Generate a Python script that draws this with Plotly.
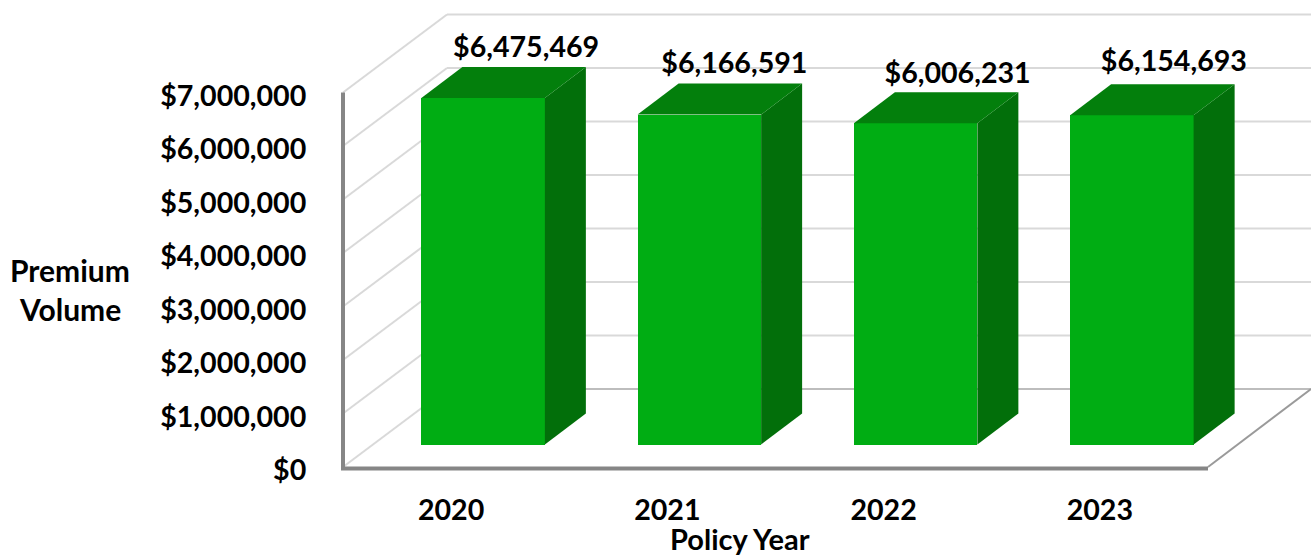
import plotly.graph_objects as go

years = ["2020", "2021", "2022", "2023"]
premium = [6475469, 6166591, 6006231, 6154693]
y_ticks = [0, 1000000, 2000000, 3000000, 4000000, 5000000, 6000000, 7000000]
y_tick_labels = ["$0", "$1,000,000", "$2,000,000", "$3,000,000", "$4,000,000",
                 "$5,000,000", "$6,000,000", "$7,000,000"]

W, H = 1311, 556
AX_L, AX_B, AX_R = 343, 467, 1208
PAD = 12
PX_PER_CAT = (AX_R - AX_L) / 4
PX_PER_USD = 53.5 / 1e6


def dx(px):
    return px / PX_PER_CAT


def dy(px):
    return px / PX_PER_USD


FONT = "Lato, Carlito, Calibri, sans-serif"
FS = 28.6
FRONT = "#00ad13"
TOP = "#037f0c"
SIDE = "#026f0a"
GRID = "#d9d9d9"
AXIS = "#868686"

WALL_DX, WALL_DY = dx(104), dy(78)
BAR_SHIFT_X, BAR_BASE = dx(32), dy(22.5)
BAR_W = 123.5 / PX_PER_CAT
SIDE_DX, SIDE_DY = dx(41), dy(31)

x0, x_end = -0.5, 3.5
x_max = x0 + (W - AX_L) / PX_PER_CAT

fig = go.Figure()
shapes = []


def line(xs, ys, color, width):
    for a, b, c, d in zip(xs[:-1], ys[:-1], xs[1:], ys[1:]):
        shapes.append(dict(type="line", x0=a, y0=b, x1=c, y1=d, layer="below",
                           line=dict(color=color, width=width)))


# Wall gridlines
for v in y_ticks:
    if v == 0:
        continue
    line([x0, x0 + WALL_DX, x_max], [v, v + WALL_DY, v + WALL_DY], GRID, 2)
line([x0, x0 + WALL_DX], [0, WALL_DY], GRID, 2)
# Floor
line([x0 + WALL_DX, x_max], [WALL_DY, WALL_DY], "#bdbdbd", 2)
line([x_end, x_max], [0, WALL_DY], "#9a9a9a", 2)

# Axis lines
line([x0, x0], [y_ticks[-1], -dy(2)], AXIS, 4)
line([x0 - dx(2), x_end], [-dy(1.5), -dy(1.5)], AXIS, 4)

# Bars: side and top faces
for i, v in enumerate(premium):
    l = i + BAR_SHIFT_X - BAR_W / 2
    r = l + BAR_W
    top = BAR_BASE + v
    fig.add_trace(go.Scatter(
        x=[r, r + SIDE_DX, r + SIDE_DX, r, r],
        y=[BAR_BASE, BAR_BASE + SIDE_DY, top + SIDE_DY, top, BAR_BASE],
        fill="toself", fillcolor=SIDE, mode="lines", line=dict(width=0, color=SIDE),
        hoverinfo="skip", showlegend=False))
    fig.add_trace(go.Scatter(
        x=[l, r, r + SIDE_DX, l + SIDE_DX, l],
        y=[top, top, top + SIDE_DY, top + SIDE_DY, top],
        fill="toself", fillcolor=TOP, mode="lines", line=dict(width=0, color=TOP),
        hoverinfo="skip", showlegend=False))

# Front faces
fig.add_trace(go.Bar(x=[i + BAR_SHIFT_X for i in range(4)], y=premium, base=BAR_BASE,
                     width=BAR_W, marker=dict(color=FRONT, line=dict(width=0)),
                     showlegend=False, hovertemplate="%{y:$,.0f}<extra></extra>"))

# Data labels
label_off_x = [43, 35, 42, 42]
label_off_y = [48, 49, 47, 51]
fig.add_trace(go.Scatter(
    x=[i + BAR_SHIFT_X + dx(o) for i, o in enumerate(label_off_x)],
    y=[BAR_BASE + v + dy(o) for v, o in zip(premium, label_off_y)],
    text=[f"${v:,}" for v in premium], mode="text", textposition="middle center",
    textfont=dict(family=FONT, size=FS, color="black", weight="bold"),
    cliponaxis=False, hoverinfo="skip", showlegend=False))

PLOT_L, PLOT_B = AX_L - PAD, AX_B + PAD
P_W, P_H = W - PLOT_L, PLOT_B


def ax_x(px):
    return (px - PLOT_L) / P_W


def ax_y(py):
    return (PLOT_B - py) / P_H


font = dict(family=FONT, size=FS, color="black", weight="bold")
title_font = dict(family=FONT, size=30, color="black", weight="bold")
bottom_font = dict(family=FONT, size=29, color="black", weight="bold")

fig.update_layout(
    width=W, height=H, autosize=False, paper_bgcolor="white", plot_bgcolor="white",
    margin=dict(l=PLOT_L, r=0, t=0, b=H - PLOT_B),
    bargap=0,
    shapes=shapes,
    xaxis=dict(range=[x0 - dx(PAD), x_max], tickmode="array", tickvals=[0, 1, 2, 3],
               ticktext=years, showgrid=False, zeroline=False, showline=False,
               ticks="outside", ticklen=18 - PAD, tickcolor="rgba(0,0,0,0)", tickfont=font),
    yaxis=dict(range=[-dy(PAD), AX_B / PX_PER_USD], tickmode="array", tickvals=y_ticks,
               ticktext=y_tick_labels, showgrid=False, zeroline=False, showline=False,
               ticks="outside", ticklen=30 - PAD, tickcolor="rgba(0,0,0,0)", tickfont=font,
               ticklabelshift=3),
    annotations=[
        dict(text="Premium", xref="paper", yref="paper", x=ax_x(70), y=ax_y(270),
             xanchor="center", yanchor="middle", showarrow=False, font=title_font),
        dict(text="Volume", xref="paper", yref="paper", x=ax_x(70), y=ax_y(309),
             xanchor="center", yanchor="middle", showarrow=False, font=title_font),
        dict(text="Policy Year", xref="paper", yref="paper", x=ax_x(740), y=ax_y(538.5),
             xanchor="center", yanchor="middle", showarrow=False, font=bottom_font),
    ],
)

fig.write_html("out.html", config={"displayModeBar": False},
               post_script="document.body.style.margin='0';document.body.style.overflow='hidden';")
